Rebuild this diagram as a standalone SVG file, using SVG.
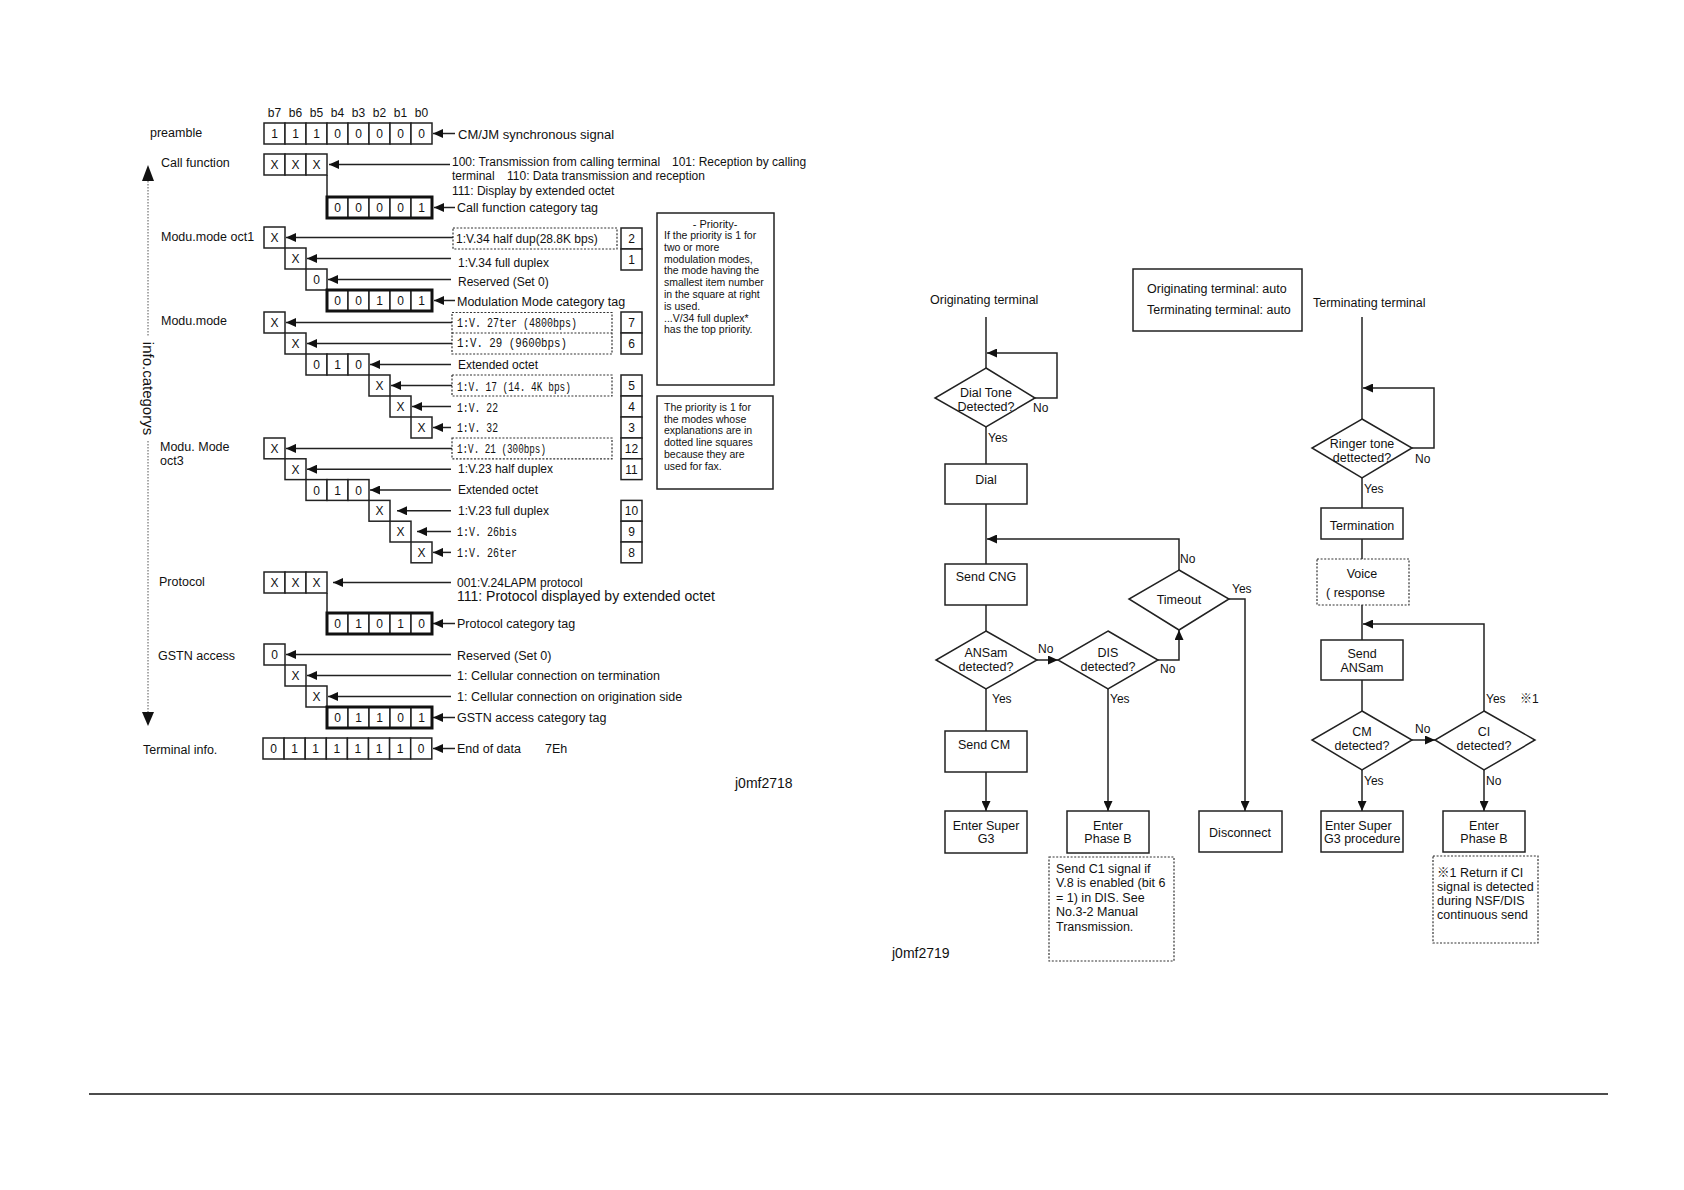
<svg xmlns="http://www.w3.org/2000/svg" width="1684" height="1190" viewBox="0 0 1684 1190">
<style>
.t{font-family:"Liberation Sans",Arial,sans-serif;font-size:12px;fill:#111}
.s{font-size:12.5px}
.m{font-family:"Liberation Mono","DejaVu Sans Mono",monospace;font-size:13.5px;fill:#111}
.c{text-anchor:middle}
.p{font-size:10.5px}
.yn{font-family:"Liberation Sans",Arial,sans-serif;font-size:12px;fill:#111}
.box{fill:#fff;stroke:#222;stroke-width:1.5}
.thick{fill:none;stroke:#111;stroke-width:3}
.dot{fill:none;stroke:#333;stroke-width:1.2;stroke-dasharray:2 1.6}
.ln{fill:none;stroke:#222;stroke-width:1.5}
</style>
<defs>
<marker id="ah" markerUnits="userSpaceOnUse" markerWidth="11" markerHeight="9" refX="10" refY="4.5" orient="auto" viewBox="0 0 11 9">
<path d="M0,0 L10,4.5 L0,9 z" fill="#111"/>
</marker>
</defs>
<rect width="1684" height="1190" fill="#fff"/>

<!-- LEFT: bit-field diagram -->
<g id="header">
<text class="t c" x="274.5" y="117">b7</text><text class="t c" x="295.5" y="117">b6</text><text class="t c" x="316.5" y="117">b5</text><text class="t c" x="337.5" y="117">b4</text><text class="t c" x="358.5" y="117">b3</text><text class="t c" x="379.5" y="117">b2</text><text class="t c" x="400.5" y="117">b1</text><text class="t c" x="421.5" y="117">b0</text>
</g>

<g id="preamble">
<text class="t s" x="150" y="137">preamble</text>
<rect class="box" x="264" y="123" width="21" height="21"/><rect class="box" x="285" y="123" width="21" height="21"/><rect class="box" x="306" y="123" width="21" height="21"/><rect class="box" x="327" y="123" width="21" height="21"/><rect class="box" x="348" y="123" width="21" height="21"/><rect class="box" x="369" y="123" width="21" height="21"/><rect class="box" x="390" y="123" width="21" height="21"/><rect class="box" x="411" y="123" width="21" height="21"/>
<text class="t c" x="274.5" y="138">1</text><text class="t c" x="295.5" y="138">1</text><text class="t c" x="316.5" y="138">1</text><text class="t c" x="337.5" y="138">0</text><text class="t c" x="358.5" y="138">0</text><text class="t c" x="379.5" y="138">0</text><text class="t c" x="400.5" y="138">0</text><text class="t c" x="421.5" y="138">0</text>
<text class="t" x="458" y="138.5" style="font-size:13px">CM/JM synchronous signal</text>
</g>

<g id="call-function">
<text class="t s" x="161" y="167">Call function</text>
<rect class="box" x="264" y="154" width="21" height="21"/><rect class="box" x="285" y="154" width="21" height="21"/><rect class="box" x="306" y="154" width="21" height="21"/>
<text class="t c" x="274.5" y="169">X</text><text class="t c" x="295.5" y="169">X</text><text class="t c" x="316.5" y="169">X</text>
<line class="ln" x1="327" y1="175" x2="327" y2="197"/>
<text class="t" x="452" y="166">100: Transmission from calling terminal</text>
<text class="t" x="672" y="166">101: Reception by calling</text>
<text class="t" x="452" y="180">terminal</text>
<text class="t" x="507" y="180">110: Data transmission and reception</text>
<text class="t" x="452" y="195">111: Display by extended octet</text>
<rect class="box" x="327" y="197" width="21" height="21"/><rect class="box" x="348" y="197" width="21" height="21"/><rect class="box" x="369" y="197" width="21" height="21"/><rect class="box" x="390" y="197" width="21" height="21"/><rect class="box" x="411" y="197" width="21" height="21"/>
<rect class="thick" x="327" y="197" width="105" height="21"/>
<text class="t c" x="337.5" y="212">0</text><text class="t c" x="358.5" y="212">0</text><text class="t c" x="379.5" y="212">0</text><text class="t c" x="400.5" y="212">0</text><text class="t c" x="421.5" y="212">1</text>
<text class="t s" x="457" y="212">Call function category tag</text>
</g>

<g id="modu-mode-oct1">
<text class="t s" x="161" y="241">Modu.mode oct1</text>
<rect class="box" x="264" y="227" width="21" height="21"/><text class="t c" x="274.5" y="242">X</text>
<rect class="box" x="285" y="248" width="21" height="21"/><text class="t c" x="295.5" y="263">X</text>
<rect class="box" x="306" y="269" width="21" height="21"/><text class="t c" x="316.5" y="284">0</text>
<rect class="box" x="327" y="290" width="21" height="21"/><rect class="box" x="348" y="290" width="21" height="21"/><rect class="box" x="369" y="290" width="21" height="21"/><rect class="box" x="390" y="290" width="21" height="21"/><rect class="box" x="411" y="290" width="21" height="21"/>
<rect class="thick" x="327" y="290" width="105" height="21"/>
<text class="t c" x="337.5" y="305">0</text><text class="t c" x="358.5" y="305">0</text><text class="t c" x="379.5" y="305">1</text><text class="t c" x="400.5" y="305">0</text><text class="t c" x="421.5" y="305">1</text>
<rect class="dot" x="453" y="228" width="164" height="21"/>
<text class="t" x="456" y="243">1:V.34 half dup(28.8K bps)</text>
<text class="t" x="458" y="267">1:V.34 full duplex</text>
<text class="t" x="458" y="286">Reserved (Set 0)</text>
<text class="t s" x="457" y="306">Modulation Mode category tag</text>
<rect class="box" x="621" y="228" width="21" height="21"/><text class="t c" x="631.5" y="243">2</text>
<rect class="box" x="621" y="249" width="21" height="21"/><text class="t c" x="631.5" y="264">1</text>
</g>

<g id="modu-mode">
<text class="t s" x="161" y="325">Modu.mode</text>
<rect class="box" x="264" y="312" width="21" height="21"/><text class="t c" x="274.5" y="327">X</text>
<rect class="box" x="285" y="333" width="21" height="21"/><text class="t c" x="295.5" y="348">X</text>
<rect class="box" x="306" y="354" width="21" height="21"/><rect class="box" x="327" y="354" width="21" height="21"/><rect class="box" x="348" y="354" width="21" height="21"/>
<text class="t c" x="316.5" y="369">0</text><text class="t c" x="337.5" y="369">1</text><text class="t c" x="358.5" y="369">0</text>
<rect class="box" x="369" y="375" width="21" height="21"/><text class="t c" x="379.5" y="390">X</text>
<rect class="box" x="390" y="396" width="21" height="21"/><text class="t c" x="400.5" y="411">X</text>
<rect class="box" x="411" y="417" width="21" height="21"/><text class="t c" x="421.5" y="432">X</text>
<rect class="dot" x="452" y="312.5" width="160" height="41.5"/>
<line class="dot" x1="452" y1="333" x2="612" y2="333"/>
<text class="m" x="457" y="327" textLength="120" lengthAdjust="spacingAndGlyphs">1:V. 27ter (4800bps)</text>
<text class="m" x="457" y="347" textLength="110" lengthAdjust="spacingAndGlyphs">1:V. 29 (9600bps)</text>
<text class="t" x="458" y="369">Extended octet</text>
<rect class="dot" x="452" y="375" width="160" height="21"/>
<text class="m" x="457" y="390.5" textLength="114" lengthAdjust="spacingAndGlyphs">1:V. 17 (14. 4K bps)</text>
<text class="m" x="457" y="411.5" textLength="41" lengthAdjust="spacingAndGlyphs">1:V. 22</text>
<text class="m" x="457" y="432" textLength="41" lengthAdjust="spacingAndGlyphs">1:V. 32</text>
<rect class="box" x="621" y="312" width="21" height="21"/><text class="t c" x="631.5" y="327">7</text>
<rect class="box" x="621" y="333" width="21" height="21"/><text class="t c" x="631.5" y="348">6</text>
<rect class="box" x="621" y="375" width="21" height="21"/><text class="t c" x="631.5" y="390">5</text>
<rect class="box" x="621" y="396" width="21" height="21"/><text class="t c" x="631.5" y="411">4</text>
<rect class="box" x="621" y="417" width="21" height="21"/><text class="t c" x="631.5" y="432">3</text>
</g>

<g id="modu-mode-oct3">
<text class="t s" x="160" y="451">Modu. Mode</text>
<text class="t s" x="160" y="465">oct3</text>
<rect class="box" x="264" y="438" width="21" height="20.8"/><text class="t c" x="274.5" y="453">X</text>
<rect class="box" x="285" y="458.8" width="21" height="20.8"/><text class="t c" x="295.5" y="473.5">X</text>
<rect class="box" x="306" y="479.6" width="21" height="20.8"/><rect class="box" x="327" y="479.6" width="21" height="20.8"/><rect class="box" x="348" y="479.6" width="21" height="20.8"/>
<text class="t c" x="316.5" y="494.5">0</text><text class="t c" x="337.5" y="494.5">1</text><text class="t c" x="358.5" y="494.5">0</text>
<rect class="box" x="369" y="500.4" width="21" height="20.8"/><text class="t c" x="379.5" y="515.3">X</text>
<rect class="box" x="390" y="521.2" width="21" height="20.8"/><text class="t c" x="400.5" y="536.1">X</text>
<rect class="box" x="411" y="542" width="21" height="20.8"/><text class="t c" x="421.5" y="557">X</text>
<rect class="dot" x="452" y="438" width="160" height="20.8"/>
<text class="m" x="457" y="453" textLength="89" lengthAdjust="spacingAndGlyphs">1:V. 21 (300bps)</text>
<text class="t" x="458" y="472.5">1:V.23 half duplex</text>
<text class="t" x="458" y="494">Extended octet</text>
<text class="t" x="458" y="514.5">1:V.23 full duplex</text>
<text class="m" x="457" y="536" textLength="60" lengthAdjust="spacingAndGlyphs">1:V. 26bis</text>
<text class="m" x="457" y="557" textLength="60" lengthAdjust="spacingAndGlyphs">1:V. 26ter</text>
<rect class="box" x="621" y="438" width="21" height="20.8"/><text class="t c" x="631.5" y="453">12</text>
<rect class="box" x="621" y="458.8" width="21" height="20.8"/><text class="t c" x="631.5" y="473.5">11</text>
<rect class="box" x="621" y="500.4" width="21" height="20.8"/><text class="t c" x="631.5" y="515.3">10</text>
<rect class="box" x="621" y="521.2" width="21" height="20.8"/><text class="t c" x="631.5" y="536.1">9</text>
<rect class="box" x="621" y="542" width="21" height="20.8"/><text class="t c" x="631.5" y="557">8</text>
</g>

<g id="priority-note">
<rect class="box" x="657" y="213" width="117" height="172"/>
<text class="t c" x="715" y="228" style="font-size:11px">- Priority-</text>
<text class="t p" x="664" y="239">If the priority is 1 for</text>
<text class="t p" x="664" y="250.8">two or more</text>
<text class="t p" x="664" y="262.6">modulation modes,</text>
<text class="t p" x="664" y="274.4">the mode having the</text>
<text class="t p" x="664" y="286.2">smallest item number</text>
<text class="t p" x="664" y="298">in the square at right</text>
<text class="t p" x="664" y="309.8">is used.</text>
<text class="t p" x="664" y="321.6">...V/34 full duplex*</text>
<text class="t p" x="664" y="333.4">has the top priority.</text>
</g>

<g id="fax-note">
<rect class="box" x="657" y="396" width="116" height="93"/>
<text class="t p" x="664" y="411">The priority is 1 for</text>
<text class="t p" x="664" y="422.7">the modes whose</text>
<text class="t p" x="664" y="434.4">explanations are in</text>
<text class="t p" x="664" y="446.1">dotted line squares</text>
<text class="t p" x="664" y="457.8">because they are</text>
<text class="t p" x="664" y="469.5">used for fax.</text>
</g>

<g id="protocol">
<text class="t s" x="159" y="586">Protocol</text>
<rect class="box" x="264" y="572" width="21" height="21"/><rect class="box" x="285" y="572" width="21" height="21"/><rect class="box" x="306" y="572" width="21" height="21"/>
<text class="t c" x="274.5" y="587">X</text><text class="t c" x="295.5" y="587">X</text><text class="t c" x="316.5" y="587">X</text>
<line class="ln" x1="327" y1="593" x2="327" y2="613"/>
<rect class="box" x="327" y="613" width="21" height="21"/><rect class="box" x="348" y="613" width="21" height="21"/><rect class="box" x="369" y="613" width="21" height="21"/><rect class="box" x="390" y="613" width="21" height="21"/><rect class="box" x="411" y="613" width="21" height="21"/>
<rect class="thick" x="327" y="613" width="105" height="21"/>
<text class="t c" x="337.5" y="628">0</text><text class="t c" x="358.5" y="628">1</text><text class="t c" x="379.5" y="628">0</text><text class="t c" x="400.5" y="628">1</text><text class="t c" x="421.5" y="628">0</text>
<text class="t" x="457" y="587">001:V.24LAPM protocol</text>
<text class="t" x="457" y="601" style="font-size:14px">111: Protocol displayed by extended octet</text>
<text class="t s" x="457" y="628">Protocol category tag</text>
</g>

<g id="gstn-access">
<text class="t s" x="158" y="660">GSTN access</text>
<rect class="box" x="264" y="644" width="21" height="21"/><text class="t c" x="274.5" y="659">0</text>
<rect class="box" x="285" y="665" width="21" height="21"/><text class="t c" x="295.5" y="680">X</text>
<rect class="box" x="306" y="686" width="21" height="21"/><text class="t c" x="316.5" y="701">X</text>
<rect class="box" x="327" y="707" width="21" height="21"/><rect class="box" x="348" y="707" width="21" height="21"/><rect class="box" x="369" y="707" width="21" height="21"/><rect class="box" x="390" y="707" width="21" height="21"/><rect class="box" x="411" y="707" width="21" height="21"/>
<rect class="thick" x="327" y="707" width="105" height="21"/>
<text class="t c" x="337.5" y="722">0</text><text class="t c" x="358.5" y="722">1</text><text class="t c" x="379.5" y="722">1</text><text class="t c" x="400.5" y="722">0</text><text class="t c" x="421.5" y="722">1</text>
<text class="t s" x="457" y="660">Reserved (Set 0)</text>
<text class="t s" x="457" y="680">1: Cellular connection on termination</text>
<text class="t s" x="457" y="701">1: Cellular connection on origination side</text>
<text class="t s" x="457" y="721.5">GSTN access category tag</text>
</g>

<g id="terminal-info">
<text class="t s" x="143" y="754">Terminal info.</text>
<rect class="box" x="263" y="738" width="21.1" height="21"/><rect class="box" x="284.1" y="738" width="21.1" height="21"/><rect class="box" x="305.2" y="738" width="21.1" height="21"/><rect class="box" x="326.3" y="738" width="21.1" height="21"/><rect class="box" x="347.4" y="738" width="21.1" height="21"/><rect class="box" x="368.5" y="738" width="21.1" height="21"/><rect class="box" x="389.6" y="738" width="21.1" height="21"/><rect class="box" x="410.7" y="738" width="21.1" height="21"/>
<text class="t c" x="273.5" y="753">0</text><text class="t c" x="294.6" y="753">1</text><text class="t c" x="315.7" y="753">1</text><text class="t c" x="336.8" y="753">1</text><text class="t c" x="357.9" y="753">1</text><text class="t c" x="379" y="753">1</text><text class="t c" x="400.1" y="753">1</text><text class="t c" x="421.2" y="753">0</text>
<text class="t s" x="457" y="753">End of data</text>
<text class="t s" x="545" y="753">7Eh</text>
</g>

<g id="info-categorys">
<line x1="148" y1="181" x2="148" y2="336" stroke="#555" stroke-width="1" stroke-dasharray="1.5 1.5"/>
<line x1="148" y1="441" x2="148" y2="712" stroke="#555" stroke-width="1" stroke-dasharray="1.5 1.5"/>
<path d="M148,165 L142,181 L154,181 z" fill="#111"/>
<path d="M148,726 L142,712 L154,712 z" fill="#111"/>
<text class="t c" x="0" y="0" style="font-size:15px" transform="translate(143,388.5) rotate(90)">info.categorys</text>
</g>

<g id="left-connectors">
<line class="ln" x1="455" y1="133.5" x2="433" y2="133.5" marker-end="url(#ah)"/>
<line class="ln" x1="450" y1="164.5" x2="329" y2="164.5" marker-end="url(#ah)"/>
<line class="ln" x1="455" y1="207.5" x2="434" y2="207.5" marker-end="url(#ah)"/>
<line class="ln" x1="453" y1="237.5" x2="286" y2="237.5" marker-end="url(#ah)"/>
<line class="ln" x1="451" y1="258.5" x2="307" y2="258.5" marker-end="url(#ah)"/>
<line class="ln" x1="451" y1="279.5" x2="328" y2="279.5" marker-end="url(#ah)"/>
<line class="ln" x1="455" y1="300.5" x2="434" y2="300.5" marker-end="url(#ah)"/>
<line class="ln" x1="452" y1="322.5" x2="286" y2="322.5" marker-end="url(#ah)"/>
<line class="ln" x1="452" y1="343.5" x2="307" y2="343.5" marker-end="url(#ah)"/>
<line class="ln" x1="451" y1="364.5" x2="370" y2="364.5" marker-end="url(#ah)"/>
<line class="ln" x1="452" y1="385.5" x2="391" y2="385.5" marker-end="url(#ah)"/>
<line class="ln" x1="451" y1="406.5" x2="412" y2="406.5" marker-end="url(#ah)"/>
<line class="ln" x1="451" y1="427.5" x2="433" y2="427.5" marker-end="url(#ah)"/>
<line class="ln" x1="452" y1="448.4" x2="286" y2="448.4" marker-end="url(#ah)"/>
<line class="ln" x1="451" y1="469.2" x2="307" y2="469.2" marker-end="url(#ah)"/>
<line class="ln" x1="451" y1="490" x2="370" y2="490" marker-end="url(#ah)"/>
<line class="ln" x1="451" y1="510.8" x2="397" y2="510.8" marker-end="url(#ah)"/>
<line class="ln" x1="451" y1="531.6" x2="417" y2="531.6" marker-end="url(#ah)"/>
<line class="ln" x1="451" y1="552.4" x2="433" y2="552.4" marker-end="url(#ah)"/>
<line class="ln" x1="451" y1="582.5" x2="333" y2="582.5" marker-end="url(#ah)"/>
<line class="ln" x1="455" y1="623.5" x2="433" y2="623.5" marker-end="url(#ah)"/>
<line class="ln" x1="451" y1="654.5" x2="286" y2="654.5" marker-end="url(#ah)"/>
<line class="ln" x1="451" y1="675.5" x2="307" y2="675.5" marker-end="url(#ah)"/>
<line class="ln" x1="451" y1="696.5" x2="328" y2="696.5" marker-end="url(#ah)"/>
<line class="ln" x1="455" y1="717.5" x2="433" y2="717.5" marker-end="url(#ah)"/>
<line class="ln" x1="455" y1="748.5" x2="433" y2="748.5" marker-end="url(#ah)"/>
</g>

<text class="t" x="735" y="788" style="font-size:14px">j0mf2718</text>

<!-- RIGHT: flowchart -->
<text class="t s" x="930" y="304">Originating terminal</text>
<text class="t s" x="1313" y="307">Terminating terminal</text>
<g id="mode-box">
<rect class="box" x="1133" y="269" width="169" height="62"/>
<text class="t s" x="1147" y="292.5">Originating terminal: auto</text>
<text class="t s" x="1147" y="313.5">Terminating terminal: auto</text>
</g>

<g id="connectors">
<line class="ln" x1="986" y1="317" x2="986" y2="368"/>
<polyline class="ln" points="1035,398 1057,398 1057,353 987,353" marker-end="url(#ah)"/>
<line class="ln" x1="986" y1="427" x2="986" y2="464"/>
<line class="ln" x1="986" y1="504" x2="986" y2="564"/>
<polyline class="ln" points="1179,570 1179,539 987,539" marker-end="url(#ah)"/>
<line class="ln" x1="986" y1="605" x2="986" y2="631"/>
<line class="ln" x1="986" y1="689" x2="986" y2="731"/>
<line class="ln" x1="986" y1="772" x2="986" y2="811" marker-end="url(#ah)"/>
<line class="ln" x1="1037" y1="660" x2="1058" y2="660" marker-end="url(#ah)"/>
<polyline class="ln" points="1158,660 1179,660 1179,630" marker-end="url(#ah)"/>
<line class="ln" x1="1108" y1="689" x2="1108" y2="811" marker-end="url(#ah)"/>
<polyline class="ln" points="1229,599 1245,599 1245,811" marker-end="url(#ah)"/>
<line class="ln" x1="1362" y1="317" x2="1362" y2="419"/>
<polyline class="ln" points="1412,448 1434,448 1434,388 1363,388" marker-end="url(#ah)"/>
<line class="ln" x1="1362" y1="478" x2="1362" y2="508"/>
<line class="ln" x1="1362" y1="539" x2="1362" y2="559"/>
<line class="ln" x1="1362" y1="605" x2="1362" y2="640"/>
<polyline class="ln" points="1484,711 1484,624 1363,624" marker-end="url(#ah)"/>
<line class="ln" x1="1362" y1="680" x2="1362" y2="711"/>
<line class="ln" x1="1362" y1="770" x2="1362" y2="811" marker-end="url(#ah)"/>
<line class="ln" x1="1412" y1="740" x2="1435" y2="740" marker-end="url(#ah)"/>
<line class="ln" x1="1484" y1="770" x2="1484" y2="811" marker-end="url(#ah)"/>
</g>

<g id="dial-tone">
<polygon class="box" points="986,368 1035,398 986,427 935,398"/>
<text class="t s c" x="986" y="396.5">Dial Tone</text>
<text class="t s c" x="986" y="410.5">Detected?</text>
<text class="yn" x="1033" y="412">No</text>
<text class="yn" x="988" y="442">Yes</text>
</g>
<g id="dial"><rect class="box" x="945" y="464" width="82" height="40"/><text class="t s c" x="986" y="483.5">Dial</text></g>
<g id="send-cng"><rect class="box" x="945" y="564" width="82" height="41"/><text class="t s c" x="986" y="580.5">Send CNG</text></g>
<g id="ansam-detected">
<polygon class="box" points="986,631 1037,660 986,689 936,660"/>
<text class="t s c" x="986" y="656.5">ANSam</text>
<text class="t s c" x="986" y="670.5">detected?</text>
<text class="yn" x="1038" y="653">No</text>
<text class="yn" x="992" y="702.5">Yes</text>
</g>
<g id="dis-detected">
<polygon class="box" points="1108,631 1158,660 1108,689 1058,660"/>
<text class="t s c" x="1108" y="656.5">DIS</text>
<text class="t s c" x="1108" y="670.5">detected?</text>
<text class="yn" x="1160" y="672.5">No</text>
<text class="yn" x="1110" y="702.5">Yes</text>
</g>
<g id="timeout">
<polygon class="box" points="1179,570 1229,599 1179,630 1129,599"/>
<text class="t s c" x="1179" y="603.5">Timeout</text>
<text class="yn" x="1180" y="562.5">No</text>
<text class="yn" x="1232" y="592.5">Yes</text>
</g>
<g id="send-cm"><rect class="box" x="945" y="731" width="82" height="41"/><text class="t s c" x="984" y="748.5">Send  CM</text></g>
<g id="enter-super-g3"><rect class="box" x="945" y="811" width="82" height="42"/><text class="t s c" x="986" y="829.5">Enter Super</text><text class="t s c" x="986" y="843">G3</text></g>
<g id="enter-phase-b-1"><rect class="box" x="1067" y="811" width="82" height="42"/><text class="t s c" x="1108" y="829.5">Enter</text><text class="t s c" x="1108" y="843">Phase B</text></g>
<g id="disconnect"><rect class="box" x="1199" y="811" width="83" height="41"/><text class="t s c" x="1240" y="836.5">Disconnect</text></g>
<g id="note-c1">
<rect class="dot" x="1049" y="857" width="125" height="104"/>
<text class="t s" x="1056" y="872.5">Send C1 signal if</text>
<text class="t s" x="1056" y="887">V.8 is enabled (bit 6</text>
<text class="t s" x="1056" y="901.5">= 1) in DIS. See</text>
<text class="t s" x="1056" y="916">No.3-2 Manual</text>
<text class="t s" x="1056" y="930.5">Transmission.</text>
</g>
<text class="t" x="892" y="958" style="font-size:14px">j0mf2719</text>

<g id="ringer-tone">
<polygon class="box" points="1362,419 1412,448 1362,478 1312,448"/>
<text class="t s c" x="1362" y="447.5">Ringer tone</text>
<text class="t s c" x="1362" y="461.5">dettected?</text>
<text class="yn" x="1415" y="462.5">No</text>
<text class="yn" x="1364" y="492.5">Yes</text>
</g>
<g id="termination"><rect class="box" x="1321" y="508" width="82" height="31"/><text class="t s c" x="1362" y="529.5">Termination</text></g>
<g id="voice-response"><rect class="dot" x="1317" y="559" width="92" height="46"/><text class="t s c" x="1362" y="577.5">Voice</text><text class="t s" x="1326" y="596.5">(  response</text></g>
<g id="send-ansam"><rect class="box" x="1321" y="640" width="82" height="40"/><text class="t s c" x="1362" y="657.5">Send</text><text class="t s c" x="1362" y="671.5">ANSam</text></g>
<g id="cm-detected">
<polygon class="box" points="1362,711 1412,740 1362,770 1312,740"/>
<text class="t s c" x="1362" y="735.5">CM</text>
<text class="t s c" x="1362" y="749.5">detected?</text>
<text class="yn" x="1415" y="732.5">No</text>
<text class="yn" x="1364" y="784.5">Yes</text>
</g>
<g id="ci-detected">
<polygon class="box" points="1484,711 1535,740 1484,770 1435,740"/>
<text class="t s c" x="1484" y="735.5">CI</text>
<text class="t s c" x="1484" y="749.5">detected?</text>
<text class="yn" x="1486" y="702.5">Yes</text>
<text class="yn" x="1520" y="702.5" style="font-family:'Liberation Sans','Noto Sans CJK JP',sans-serif">※1</text>
<text class="yn" x="1486" y="784.5">No</text>
</g>
<g id="enter-super-g3-procedure"><rect class="box" x="1321" y="811" width="82" height="41"/><text class="t s" x="1325" y="829.5">Enter Super</text><text class="t s" x="1324" y="843">G3 procedure</text></g>
<g id="enter-phase-b-2"><rect class="box" x="1443" y="811" width="82" height="41"/><text class="t s c" x="1484" y="829.5">Enter</text><text class="t s c" x="1484" y="843">Phase B</text></g>
<g id="note-ci">
<rect class="dot" x="1433" y="856" width="105" height="87"/>
<text class="t s" x="1437" y="876.5" style="font-family:'Liberation Sans','Noto Sans CJK JP',sans-serif">※1  Return if CI</text>
<text class="t s" x="1437" y="890.5">signal is detected</text>
<text class="t s" x="1437" y="904.5">during NSF/DIS</text>
<text class="t s" x="1437" y="918.5">continuous send</text>
</g>

<line x1="89" y1="1094" x2="1608" y2="1094" stroke="#111" stroke-width="1.5"/>
</svg>
